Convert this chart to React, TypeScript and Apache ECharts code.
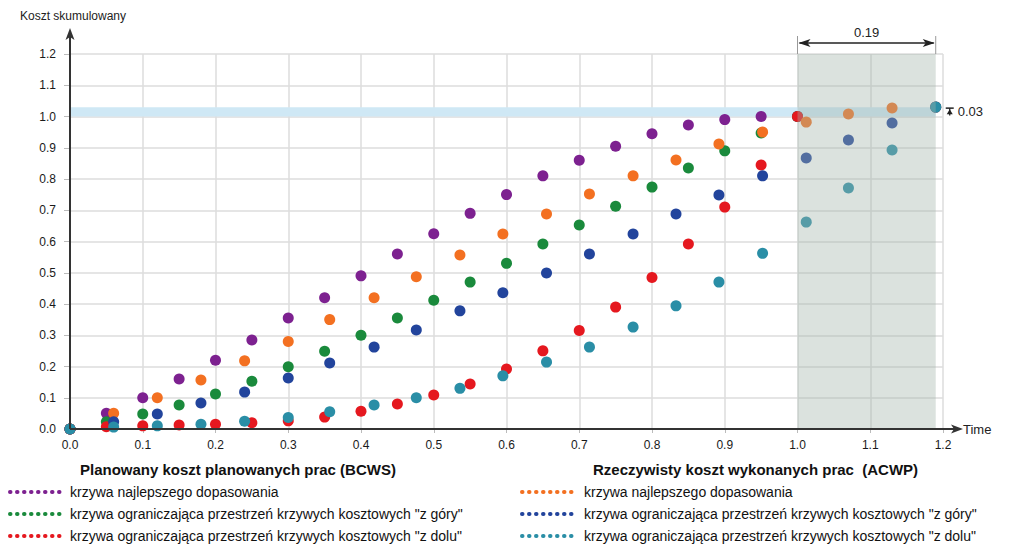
import React, { useEffect, useRef } from "react";
import * as echarts from "echarts";

// ---- data ----
const bcwsTime = [0, 0.05, 0.1, 0.15, 0.2, 0.25, 0.3, 0.35, 0.4, 0.45, 0.5, 0.55, 0.6, 0.65, 0.7, 0.75, 0.8, 0.85, 0.9, 0.95, 1.0];
const bcwsBest = [0, 0.05, 0.1, 0.16, 0.22, 0.285, 0.355, 0.42, 0.49, 0.56, 0.625, 0.69, 0.75, 0.81, 0.86, 0.905, 0.945, 0.973, 0.99, 1.0, 1.0];
const bcwsUpper = [0, 0.023, 0.048, 0.077, 0.112, 0.153, 0.199, 0.249, 0.3, 0.355, 0.412, 0.47, 0.53, 0.592, 0.653, 0.713, 0.774, 0.835, 0.89, 0.947, 1.0];
const bcwsLower = [0, 0.007, 0.01, 0.013, 0.015, 0.02, 0.026, 0.038, 0.057, 0.08, 0.109, 0.144, 0.192, 0.25, 0.315, 0.39, 0.485, 0.592, 0.71, 0.845, 1.0];

const acwpTime = [0, 0.06, 0.12, 0.18, 0.24, 0.3, 0.357, 0.418, 0.476, 0.536, 0.595, 0.655, 0.714, 0.774, 0.833, 0.892, 0.952, 1.012, 1.07, 1.13, 1.19];
const acwpBest = [0, 0.05, 0.1, 0.157, 0.218, 0.28, 0.35, 0.42, 0.487, 0.557, 0.624, 0.688, 0.752, 0.81, 0.861, 0.912, 0.95, 0.982, 1.008, 1.027, 1.03];
const acwpUpper = [0, 0.023, 0.048, 0.083, 0.118, 0.163, 0.211, 0.262, 0.317, 0.378, 0.436, 0.499, 0.56, 0.624, 0.688, 0.749, 0.81, 0.867, 0.925, 0.979, 1.03];
const acwpLower = [0, 0.006, 0.01, 0.015, 0.025, 0.037, 0.055, 0.077, 0.1, 0.13, 0.17, 0.214, 0.262, 0.326, 0.394, 0.47, 0.562, 0.662, 0.771, 0.893, 1.03];

const plannedEnd = 1.0;
const actualEnd = 1.19;
const costPlanned = 1.0;
const costActual = 1.03;
const delayLabel = "0.19";
const overrunLabel = "0.03";

const headerLeft = "Planowany koszt planowanych prac (BCWS)";
const headerRight = "Rzeczywisty koszt wykonanych prac  (ACWP)";
const legendNames = [
  "krzywa najlepszego dopasowania",
  "krzywa ograniczająca przestrzeń krzywych kosztowych \"z góry\"",
  "krzywa ograniczająca przestrzeń krzywych kosztowych \"z dolu\"",
];

const C = {
  purple: "#7d2190",
  green: "#1a8a3c",
  red: "#e5181f",
  orange: "#f37021",
  blue: "#22449c",
  teal: "#2a8ea6",
};

const FONT = "Liberation Sans, Arial, Helvetica, sans-serif";

function pts(t: number[], v: number[]) {
  return t.map((x, i) => [x, v[i]]);
}

export default function App() {
  const ref = useRef<HTMLDivElement>(null);
  useEffect(() => {
    const chart = echarts.init(ref.current!, null, { renderer: "svg" });
    const sc = (name: string, t: number[], v: number[], color: string) => ({
      name,
      type: "scatter",
      z: 3,
      symbolSize: 11,
      itemStyle: { color, opacity: 1 },
      data: pts(t, v),
    });
    chart.setOption({
      animation: false,
      textStyle: { fontFamily: FONT },
      grid: { left: 70, right: 86, top: 54, bottom: 117 },
      xAxis: {
        type: "value",
        min: 0,
        max: 1.2,
        interval: 0.1,
        axisLine: { show: false },
        axisTick: { show: true, length: 4, lineStyle: { color: "#bbb" } },
        axisLabel: {
          margin: 10,
          fontSize: 12,
          color: "#1a1a1a",
          formatter: (v: number) => v.toFixed(1),
        },
        splitLine: { show: true, lineStyle: { color: "#dcdcdc", width: 1.5 } },
      },
      yAxis: {
        type: "value",
        min: 0,
        max: 1.2,
        interval: 0.1,
        axisLine: { show: false },
        axisTick: { show: true, length: 6, lineStyle: { color: "#bbb" } },
        axisLabel: {
          margin: 14,
          fontSize: 12,
          color: "#1a1a1a",
          formatter: (v: number) => v.toFixed(1),
        },
        splitLine: { show: true, lineStyle: { color: "#dcdcdc", width: 1.5 } },
      },
      series: [
        {
          type: "scatter",
          z: 1,
          data: [],
          markArea: {
            silent: true,
            z: 1,
            itemStyle: { color: "#cfe8f5" },
            data: [[{ coord: [0, costPlanned] }, { coord: [actualEnd, costActual] }]],
          },
        },
        sc("bcwsBest", bcwsTime, bcwsBest, C.purple),
        sc("bcwsUpper", bcwsTime, bcwsUpper, C.green),
        sc("bcwsLower", bcwsTime, bcwsLower, C.red),
        sc("acwpBest", acwpTime, acwpBest, C.orange),
        sc("acwpUpper", acwpTime, acwpUpper, C.blue),
        sc("acwpLower", acwpTime, acwpLower, C.teal),
        {
          type: "scatter",
          z: 10,
          data: [],
          markArea: {
            silent: true,
            z: 10,
            itemStyle: { color: "rgba(160,180,168,0.38)" },
            data: [[{ xAxis: plannedEnd, yAxis: 0 }, { xAxis: actualEnd, yAxis: 1.2 }]],
          },
        },
      ],
    });

    const P = (x: number, y: number) => chart.convertToPixel({ gridIndex: 0 }, [x, y]) as number[];
    const o = P(0, 0);
    const xe = P(1.2, 0)[0];
    const yt = P(0, 1.2)[1];
    const xs = P(plannedEnd, 0)[0];
    const xa = P(actualEnd, 0)[0];
    const y100 = P(0, costPlanned)[1];
    const y103 = P(0, costActual)[1];
    const axisColor = "#333";
    const g: any[] = [];
    // axes
    g.push({ type: "line", shape: { x1: o[0], y1: o[1], x2: xe + 14, y2: o[1] }, style: { stroke: axisColor, lineWidth: 2 }, z: 20 });
    g.push({ type: "polygon", shape: { points: [[xe + 20, o[1]], [xe + 8, o[1] - 4.5], [xe + 11, o[1]], [xe + 8, o[1] + 4.5]] }, style: { fill: axisColor }, z: 20 });
    g.push({ type: "line", shape: { x1: o[0], y1: o[1], x2: o[0], y2: yt - 20 }, style: { stroke: axisColor, lineWidth: 2 }, z: 20 });
    g.push({ type: "polygon", shape: { points: [[o[0], yt - 26], [o[0] - 4.5, yt - 14], [o[0], yt - 17], [o[0] + 4.5, yt - 14]] }, style: { fill: axisColor }, z: 20 });
    g.push({ type: "text", x: xe + 20, y: o[1], style: { text: "Time", fill: "#222", font: `13px ${FONT}`, verticalAlign: "middle" }, z: 20 });
    g.push({ type: "text", x: 20, y: 16, style: { text: "Koszt skumulowany", fill: "#222", font: `12px ${FONT}`, verticalAlign: "middle" }, z: 20 });
    // delay annotation
    const ya = yt - 11;
    g.push({ type: "line", shape: { x1: xs, y1: yt - 18, x2: xs, y2: yt }, style: { stroke: "#999", lineWidth: 1 }, z: 20 });
    g.push({ type: "line", shape: { x1: xa, y1: yt - 18, x2: xa, y2: yt }, style: { stroke: "#999", lineWidth: 1 }, z: 20 });
    g.push({ type: "line", shape: { x1: xs + 2, y1: ya, x2: xa - 2, y2: ya }, style: { stroke: "#222", lineWidth: 1.3 }, z: 20 });
    g.push({ type: "polygon", shape: { points: [[xs + 1, ya], [xs + 13, ya - 4], [xs + 10, ya], [xs + 13, ya + 4]] }, style: { fill: "#222" }, z: 20 });
    g.push({ type: "polygon", shape: { points: [[xa - 1, ya], [xa - 13, ya - 4], [xa - 10, ya], [xa - 13, ya + 4]] }, style: { fill: "#222" }, z: 20 });
    g.push({ type: "text", x: (xs + xa) / 2, y: ya - 11, style: { text: delayLabel, fill: "#222", font: `13px ${FONT}`, align: "center", verticalAlign: "middle" }, z: 20 });
    // overrun annotation
    const xo = xa + 14;
    g.push({ type: "line", shape: { x1: xo - 4, y1: y103 + 1, x2: xo + 4, y2: y103 + 1 }, style: { stroke: "#222", lineWidth: 1.5 }, z: 20 });
    g.push({ type: "line", shape: { x1: xo, y1: y103 + 1, x2: xo, y2: y100 - 1 }, style: { stroke: "#222", lineWidth: 1.3 }, z: 20 });
    g.push({ type: "polygon", shape: { points: [[xo, y103 + 2], [xo - 3, y103 + 7], [xo + 3, y103 + 7]] }, style: { fill: "#222" }, z: 20 });
    g.push({ type: "text", x: xo + 8, y: (y100 + y103) / 2, style: { text: overrunLabel, fill: "#222", font: `13px ${FONT}`, verticalAlign: "middle" }, z: 20 });
    // legend
    g.push({ type: "text", x: 80, y: 469, style: { text: headerLeft, fill: "#111", font: `bold 15px ${FONT}`, verticalAlign: "middle" } });
    g.push({ type: "text", x: 593, y: 469, style: { text: headerRight, fill: "#111", font: `bold 15px ${FONT}`, verticalAlign: "middle" } });
    const leftColors = [C.purple, C.green, C.red];
    const rightColors = [C.orange, C.blue, C.teal];
    const rowsY = [492, 514, 536];
    rowsY.forEach((ry, i) => {
      g.push({ type: "line", shape: { x1: 10, y1: ry, x2: 66, y2: ry }, style: { stroke: leftColors[i], lineWidth: 4, lineDash: [0.5, 6.5], lineCap: "round" } });
      g.push({ type: "text", x: 70, y: ry, style: { text: legendNames[i], fill: "#111", font: `14px ${FONT}`, verticalAlign: "middle" } });
      g.push({ type: "line", shape: { x1: 522, y1: ry, x2: 578, y2: ry }, style: { stroke: rightColors[i], lineWidth: 4, lineDash: [0.5, 6.5], lineCap: "round" } });
      g.push({ type: "text", x: 584, y: ry, style: { text: legendNames[i], fill: "#111", font: `14px ${FONT}`, verticalAlign: "middle" } });
    });
    chart.setOption({ graphic: g });
    return () => chart.dispose();
  }, []);
  return (
    <div
      ref={ref}
      style={{ position: "fixed", left: 0, top: 0, width: 1029, height: 546, background: "#fff" }}
    />
  );
}
